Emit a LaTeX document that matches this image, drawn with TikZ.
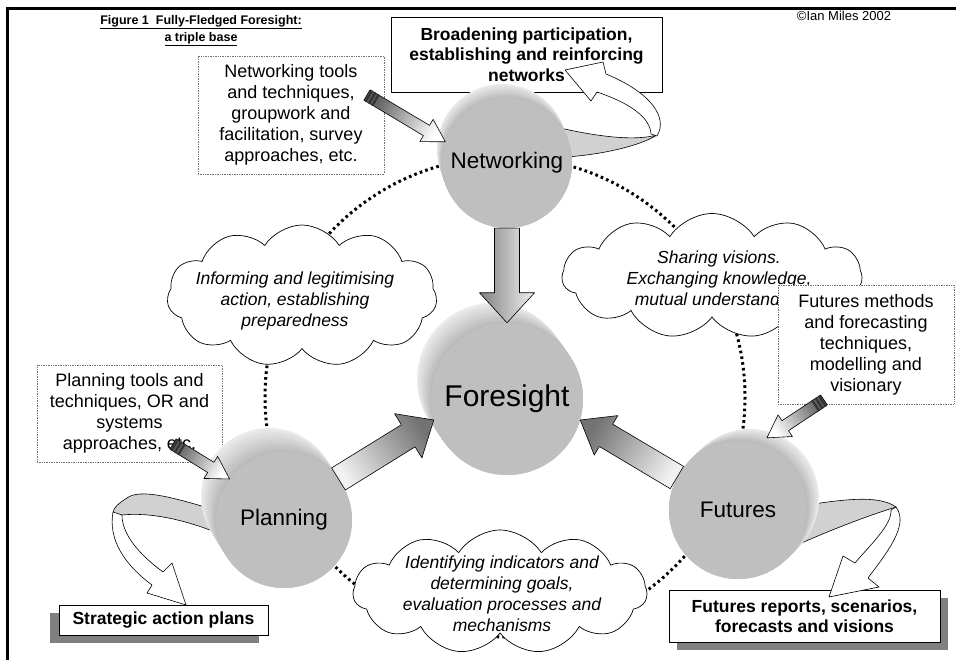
\documentclass[tikz,border=0pt]{standalone}
\usepackage{fontspec}
\setmainfont{Liberation Sans}
\usetikzlibrary{calc,shapes.symbols,shadings}

% block arrow: #1 options, #2 start, #3 tip, #4 shaft half width, #5 head half width, #6 head length
\newcommand\blockarrow[6]{%
  \coordinate (ba-s) at (#2);
  \coordinate (ba-e) at (#3);
  \coordinate (ba-h) at ($(ba-e)!#6!(ba-s)$);
  \draw[#1] ($(ba-s)!#4!90:(ba-e)$) -- ($(ba-h)!#4!-90:(ba-s)$) -- ($(ba-h)!#5!-90:(ba-s)$)
    -- (ba-e) -- ($(ba-h)!#5!90:(ba-s)$) -- ($(ba-h)!#4!90:(ba-s)$) -- ($(ba-s)!#4!-90:(ba-e)$) -- cycle;
}
% input arrow with striped tail: #1 shading angle, #2 tail, #3 tip
\newcommand\pencilarrow[3]{%
  \blockarrow{draw=black, line width=0.6pt, line join=round, top color=white, bottom color=black!65, shading angle=#1}{#2}{#3}{6pt}{13pt}{22pt}
  \foreach \d in {2,6,10}{%
    \coordinate (pa-m) at ($(ba-s)!\d pt!(ba-e)$);
    \draw[black!80, line width=2.2pt] ($(pa-m)!6.5pt!90:(ba-e)$) -- ($(pa-m)!6.5pt!-90:(ba-e)$);
  }
}
% extruded back of a disk: cx, cy, r, dx, dy
\newcommand\diskbody[5]{%
  \foreach \i in {0,...,24}{%
    \pgfmathsetmacro\ff{1-\i/24}%
    \pgfmathtruncatemacro\cc{8+20*\i/24}%
    \fill[black!\cc] ({#1+\ff*(#4)},{#2+\ff*(#5)}) circle[radius=#3];
  }%
}

\begin{document}
\begin{tikzpicture}[x=1pt,y=-1pt,
  txt/.style={font=\fontsize{18}{21}\selectfont, align=center, inner sep=0pt},
  btxt/.style={font=\fontsize{17.5}{20.5}\selectfont\bfseries, align=center, inner sep=0pt},
  itxt/.style={font=\fontsize{17.5}{21}\selectfont\itshape, align=center, inner sep=0pt},
  toolbox/.style={draw=black!55, densely dotted, line width=0.7pt, fill=white, txt},
  outbox/.style={draw=black, line width=0.8pt, fill=white, btxt},
  cloudshape/.style={cloud, draw, fill=white, line width=0.7pt, cloud puffs=11, cloud puff arc=115, cloud ignores aspect, inner sep=0pt},
  diskface/.style={circle, fill=black!25, inner sep=0pt, font=\fontsize{22.5}{26}\selectfont},
  ribbon/.style={draw=black, line width=0.6pt, line join=round},
  dotring/.style={line width=3pt, dash pattern=on 2.6pt off 3.2pt},
  bigarrow/.style={draw=black, line width=0.6pt, line join=round, top color=black!55, bottom color=black!5},
]
\useasboundingbox (0,0) rectangle (956,660);

% frame
\draw[line width=3pt] (7.5,660) -- (7.5,8.5) -- (956,8.5);

% title and credit
\node[font=\fontsize{12.5}{15}\selectfont\bfseries, inner sep=0pt] (title1) at (201,22) {\underline{Figure 1\ \ Fully-Fledged Foresight:}};
\node[font=\fontsize{12.5}{15}\selectfont\bfseries, inner sep=0pt] (title2) at (201,39) {\underline{a triple base}};
\node[font=\fontsize{13}{15}\selectfont, inner sep=0pt] (credit) at (844,16) {\textcopyright Ian Miles 2002};

% dotted ring
\coordinate (ringc) at (505,397);
\draw[dotring] (ringc) circle[radius=240];

% clouds
\node[cloudshape, minimum width=270pt, minimum height=142pt] (c1) at (302,296) {};
\node[itxt] (c1t) at (295,301) {Informing and legitimising\\action, establishing\\preparedness};
\node[cloudshape, minimum width=300pt, minimum height=125pt] (c2) at (712,276) {};
\node[itxt] (c2t) at (719,280) {Sharing visions.\\Exchanging knowledge,\\mutual understanding};
\node[cloudshape, minimum width=294pt, minimum height=124pt] (c3) at (500,592) {};
\node[itxt] (c3t) at (502,594) {Identifying indicators and\\determining goals,\\evaluation processes and\\mechanisms};

% tool boxes
\node[toolbox, minimum width=186pt, minimum height=118pt] (nt) at (291,115) {Networking tools\\and techniques,\\groupwork and\\facilitation, survey\\approaches, etc.};
\node[toolbox, minimum width=185pt, minimum height=97pt] (pt) at (129.5,413.5) {Planning tools and\\techniques, OR and\\systems\\approaches, etc.};
\node[toolbox, minimum width=176pt, minimum height=119pt] (ft) at (866,344.5) {Futures methods\\and forecasting\\techniques,\\modelling and\\visionary};

% output boxes
\node[outbox, minimum width=271pt, minimum height=75pt] (nb) at (526.5,54.5) {Broadening participation,\\establishing and reinforcing\\networks};
\fill[black!50] (50,613) rectangle (259,643);
\node[outbox, minimum width=209pt, minimum height=30pt] (pb) at (163.5,620) {Strategic action plans};
\fill[black!50] (677,598) rectangle (948,650);
\node[outbox, minimum width=271pt, minimum height=52pt] (fb) at (804.5,616) {Futures reports, scenarios,\\forecasts and visions};

% ribbons
\filldraw[ribbon, fill=black!18] (560,128) .. controls (600,137) and (635,141) .. (657,135) .. controls (640,146) and (600,155) .. (565,157) -- cycle;
\filldraw[ribbon, fill=white] (657,136) .. controls (668,118) and (652,93) .. (606,74) -- (603,62) -- (565,70) -- (591,101) -- (597,92) .. controls (632,104) and (650,118) .. (651,134) -- cycle;

\filldraw[ribbon, fill=black!18] (215,510) .. controls (175,498) and (140,488) .. (127,498) .. controls (119,503) and (113,508) .. (113,513) -- (122,515) .. controls (150,512) and (185,520) .. (215,532) -- cycle;
\filldraw[ribbon, fill=white] (113,512) .. controls (108,540) and (125,565) .. (152,585) -- (147,593) -- (186,605) -- (172,563) -- (163,572) .. controls (140,555) and (122,535) .. (122,515) -- cycle;

\filldraw[ribbon, fill=black!18] (800,506) .. controls (840,500) and (878,494) .. (896,507) .. controls (870,515) and (830,530) .. (795,546) -- cycle;
\filldraw[ribbon, fill=white] (896,507) .. controls (910,525) and (885,555) .. (868,578) -- (879,587) -- (829,597) -- (843,556) -- (855,563) .. controls (870,545) and (892,525) .. (891,510) -- cycle;

% disks
\diskbody{507}{163}{65}{-5}{-14}
\node[diskface, minimum size=130pt] (net) at (507,163) {Networking};
\diskbody{507}{399}{76}{-14}{-20}
\node[diskface, minimum size=152pt, font=\fontsize{30}{34}\selectfont] (fore) at (507,399) {Foresight};
\diskbody{284}{520}{68}{-15}{-24}
\node[diskface, minimum size=136pt] (plan) at (284,520) {Planning};
\diskbody{738}{510}{69}{12}{-12}
\node[diskface, minimum size=138pt] (fut) at (738,510) {Futures};

% main arrows
\blockarrow{draw=black, line width=0.6pt, line join=round, left color=black!50, right color=black!5}{net.south}{fore.north}{12.5pt}{27.5pt}{30pt}
\blockarrow{bigarrow, shading angle=-56}{plan.37}{fore.196}{13pt}{26pt}{30pt}
\blockarrow{bigarrow, shading angle=57}{fut.152}{fore.344}{13pt}{23pt}{30pt}

% input arrows
\coordinate (nt-t) at (367,95);
\coordinate (pt-t) at (173,444);
\coordinate (ft-t) at (824,400);
\pencilarrow{-121}{nt-t}{net.161}
\pencilarrow{-121}{pt-t}{plan.143}
\pencilarrow{124}{ft-t}{$(fut.68)+(3,-8)$}
\end{tikzpicture}
\end{document}
